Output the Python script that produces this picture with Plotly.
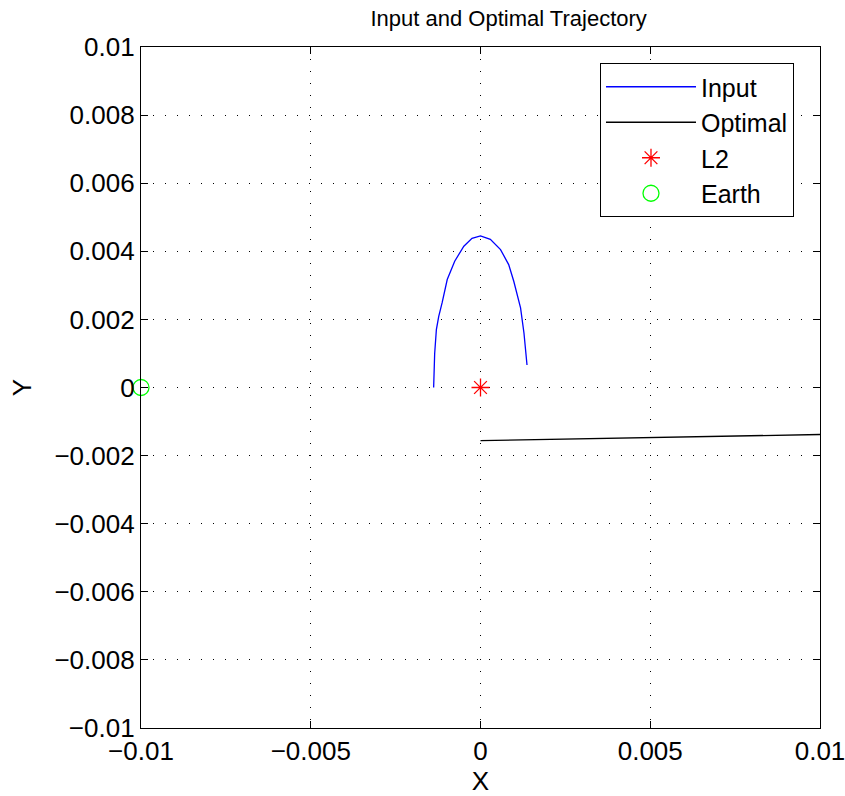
import plotly.graph_objects as go

# Input trajectory (arc around L2)
input_x = [-0.00138, -0.00135, -0.00130, -0.00123, -0.00113, -0.00098, -0.00076,
           -0.00049, -0.00025, 0.0, 0.00029, 0.00059, 0.00083, 0.00098,
           0.00118, 0.00128, 0.00137]
input_y = [0.0, 0.00100, 0.00170, 0.00209, 0.00249, 0.00317, 0.00371,
           0.00415, 0.00438, 0.00445, 0.00435, 0.00405, 0.00361, 0.00312,
           0.00234, 0.00160, 0.00066]

# Optimal trajectory
optimal_x = [0.0, 0.01]
optimal_y = [-0.00156, -0.00138]

# Reference bodies
l2_x, l2_y = [0.0], [0.0]
earth_x, earth_y = [-0.01], [0.0]

x_ticks = [-0.01, -0.005, 0, 0.005, 0.01]
x_ticklabels = ["\u22120.01", "\u22120.005", "0", "0.005", "0.01"]
y_ticks = [-0.01, -0.008, -0.006, -0.004, -0.002, 0, 0.002, 0.004, 0.006, 0.008, 0.01]
y_ticklabels = ["\u22120.01", "\u22120.008", "\u22120.006", "\u22120.004", "\u22120.002", "0",
                "0.002", "0.004", "0.006", "0.008", "0.01"]

FONT = "Liberation Sans, Arial, Helvetica, sans-serif"
FS = 26

fig = go.Figure()
fig.add_trace(go.Scatter(x=input_x, y=input_y, mode="lines", name="Input",
                         line=dict(color="#0000ff", width=1.3)))
fig.add_trace(go.Scatter(x=optimal_x, y=optimal_y, mode="lines", name="Optimal",
                         line=dict(color="black", width=1.3)))
fig.add_trace(go.Scatter(x=l2_x, y=l2_y, mode="markers", name="L2",
                         cliponaxis=False,
                         marker=dict(symbol="asterisk-open", size=15,
                                     color="red", line=dict(color="red", width=1.3))))
fig.add_trace(go.Scatter(x=earth_x, y=earth_y, mode="markers", name="Earth",
                         cliponaxis=False,
                         marker=dict(symbol="circle-open", size=16,
                                     color="#00ff00", line=dict(color="#00ff00", width=1.3))))

axis_common = dict(
    showline=True, linecolor="black", linewidth=1.3, mirror="ticks",
    ticks="inside", ticklen=7, tickwidth=1, tickcolor="black",
    showgrid=True, gridcolor="black", gridwidth=1, griddash="1px,11px",
    zeroline=False, automargin=False, ticklabeloverflow="allow",
    tickfont=dict(family=FONT, size=FS, color="black"),
)

fig.update_xaxes(range=[-0.01, 0.01], tickvals=x_ticks, ticktext=x_ticklabels,
                 ticklabelstandoff=0,
                 title=dict(text="X", font=dict(family=FONT, size=FS, color="black"),
                            standoff=15),
                 **axis_common)
fig.update_yaxes(range=[-0.01, 0.01], tickvals=y_ticks, ticktext=y_ticklabels,
                 title=dict(text="Y", font=dict(family=FONT, size=FS, color="black"),
                            standoff=15),
                 **axis_common)

fig.update_layout(
    width=845, height=796,
    margin=dict(l=141, r=25, t=47, b=68),
    paper_bgcolor="white", plot_bgcolor="white",
    font=dict(family=FONT, color="black"),
    title=dict(text="Input and Optimal Trajectory", x=0.602, xanchor="center",
               y=0.987, yanchor="top",
               font=dict(family=FONT, size=22, color="black")),
    legend=dict(x=0.9617, xanchor="right", y=0.9765, yanchor="top",
                bgcolor="white", bordercolor="black", borderwidth=1,
                font=dict(family=FONT, size=25, color="black"),
                itemwidth=90, traceorder="normal"),
    showlegend=True,
)

fig.write_html("out.html")
